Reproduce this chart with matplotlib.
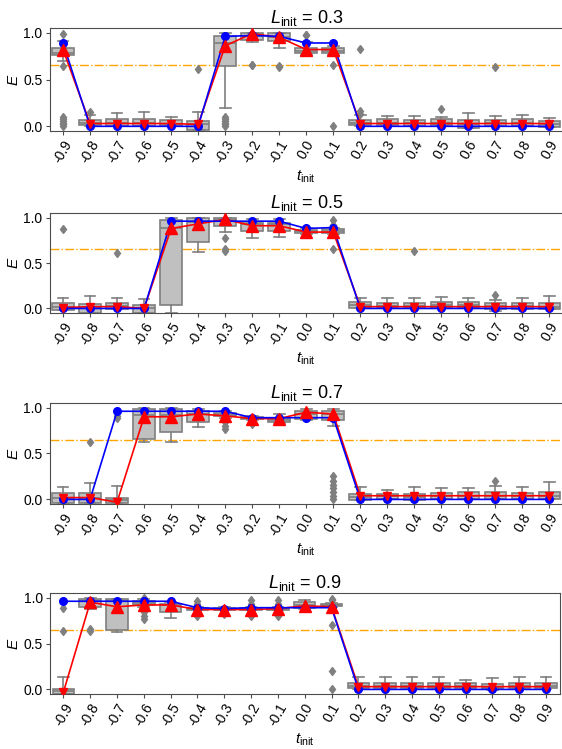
import matplotlib
matplotlib.use('Agg')
import matplotlib.pyplot as plt
import numpy as np

plt.rcParams['font.family'] = ['Liberation Sans', 'DejaVu Sans']
plt.rcParams['mathtext.fontset'] = 'custom'
plt.rcParams['mathtext.rm'] = 'Liberation Sans'
plt.rcParams['mathtext.it'] = 'Liberation Sans:italic'

t_init = ['-0.9', '-0.8', '-0.7', '-0.6', '-0.5', '-0.4', '-0.3', '-0.2', '-0.1', '0.0',
          '0.1', '0.2', '0.3', '0.4', '0.5', '0.6', '0.7', '0.8', '0.9']
l_init = ['0.3', '0.5', '0.7', '0.9']
threshold = 0.65

# ---- L_init = 0.3
q1_03 = [0.76, 0.01, 0.00, 0.00, 0.005, -0.04, 0.645, 0.92, 0.91, 0.78,
         0.78, 0.01, 0.01, 0.005, 0.01, -0.015, 0.00, 0.005, -0.005]
med_03 = [0.78, 0.04, 0.04, 0.035, 0.03, 0.02, 0.89, 0.96, 0.95, 0.80,
          0.80, 0.04, 0.04, 0.035, 0.04, 0.03, 0.035, 0.04, 0.03]
q3_03 = [0.84, 0.065, 0.08, 0.075, 0.07, 0.055, 0.96, 0.995, 1.00, 0.84,
         0.84, 0.065, 0.08, 0.065, 0.075, 0.065, 0.065, 0.075, 0.06]
wlo_03 = [0.70, 0.00, 0.00, 0.00, 0.00, -0.04, 0.20, 0.90, 0.84, 0.76,
          0.76, 0.00, 0.00, 0.00, 0.00, -0.015, 0.00, 0.00, -0.005]
whi_03 = [0.91, 0.12, 0.14, 0.15, 0.10, 0.15, 1.00, 1.00, 1.00, 0.90,
          0.86, 0.12, 0.11, 0.11, 0.10, 0.14, 0.11, 0.12, 0.09]
fl_03 = [[0.99, 0.64, 0.0, 0.02, 0.04, 0.06, 0.08, 0.10], [0.15], [], [], [], [0.61],
         [0.0, 0.02, 0.04, 0.06, 0.08, 0.10], [0.65, 0.66], [0.63, 0.64], [0.97, 0.98],
         [0.65, 0.0], [0.83, 0.13, 0.16], [], [], [0.18], [], [0.63], [], []]
blue_03 = [0.89, 0.0, 0.0, 0.0, 0.0, 0.0, 0.96, 0.97, 0.96, 0.89,
           0.89, 0.0, 0.0, 0.0, 0.0, 0.0, 0.0, 0.0, 0.0]
red_03 = [0.82, 0.03, 0.03, 0.03, 0.03, 0.02, 0.86, 0.99, 0.95, 0.82,
          0.82, 0.03, 0.03, 0.03, 0.03, 0.03, 0.03, 0.03, 0.03]

# ---- L_init = 0.5
q1_05 = [-0.02, -0.05, -0.01, -0.05, 0.035, 0.73, 0.91, 0.85, 0.85, 0.83,
         0.83, 0.005, 0.00, 0.00, 0.00, 0.005, -0.01, -0.01, -0.01]
med_05 = [0.02, 0.01, 0.03, 0.00, 0.89, 0.95, 0.97, 0.93, 0.93, 0.85,
          0.85, 0.04, 0.03, 0.03, 0.04, 0.04, 0.03, 0.03, 0.02]
q3_05 = [0.055, 0.05, 0.06, 0.035, 0.97, 0.99, 0.99, 0.94, 0.94, 0.865,
         0.87, 0.07, 0.06, 0.06, 0.07, 0.075, 0.06, 0.06, 0.055]
wlo_05 = [-0.02, -0.05, -0.01, -0.05, -0.05, 0.62, 0.84, 0.78, 0.79, 0.82,
          0.82, 0.005, 0.00, 0.00, 0.00, 0.005, -0.03, -0.01, -0.01]
whi_05 = [0.11, 0.14, 0.12, 0.10, 0.99, 1.00, 1.00, 0.98, 0.98, 0.88,
          0.88, 0.12, 0.11, 0.11, 0.13, 0.11, 0.09, 0.12, 0.14]
fl_05 = [[0.87], [], [0.61], [], [], [], [0.77, 0.65, 0.63], [], [], [],
         [0.92, 0.97, 0.65], [], [], [0.63], [], [], [0.15], [], []]
blue_05 = [0.0, 0.0, 0.0, 0.0, 0.96, 0.96, 0.96, 0.96, 0.96, 0.88,
           0.89, 0.0, 0.0, 0.0, 0.0, 0.0, 0.0, 0.0, 0.0]
red_05 = [0.01, 0.02, 0.02, 0.0, 0.88, 0.93, 0.98, 0.91, 0.91, 0.84,
          0.84, 0.02, 0.02, 0.02, 0.02, 0.02, 0.02, 0.02, 0.02]

# ---- L_init = 0.7
q1_07 = [-0.035, -0.04, -0.04, 0.66, 0.73, 0.84, 0.91, 0.88, 0.84, 0.88,
         0.87, -0.005, 0.005, -0.005, 0.005, 0.005, 0.005, 0.005, 0.005]
med_07 = [0.02, 0.02, -0.01, 0.92, 0.92, 0.93, 0.92, 0.89, 0.87, 0.93,
          0.93, 0.03, 0.04, 0.03, 0.04, 0.04, 0.04, 0.04, 0.04]
q3_07 = [0.07, 0.065, 0.015, 0.99, 0.99, 0.96, 0.94, 0.90, 0.89, 0.96,
         0.96, 0.055, 0.06, 0.06, 0.07, 0.08, 0.08, 0.07, 0.08]
wlo_07 = [-0.035, -0.04, -0.04, 0.63, 0.63, 0.79, 0.89, 0.87, 0.83, 0.86,
          0.80, -0.005, 0.005, -0.005, 0.005, 0.005, 0.005, 0.005, 0.005]
whi_07 = [0.13, 0.18, 0.15, 1.00, 1.00, 0.99, 0.96, 0.91, 0.93, 0.98,
          0.99, 0.13, 0.10, 0.14, 0.12, 0.12, 0.15, 0.13, 0.19]
fl_07 = [[], [0.62], [0.89, 0.91], [], [], [], [0.77, 0.80, 0.84, 0.88], [0.82, 0.84, 0.86], [], [],
         [0.0, 0.04, 0.08, 0.12, 0.16, 0.20, 0.26], [], [], [], [], [], [0.20], [], []]
blue_07 = [0.0, 0.0, 0.96, 0.96, 0.96, 0.96, 0.96, 0.89, 0.89, 0.89,
           0.89, 0.0, 0.0, 0.0, 0.0, 0.0, 0.0, 0.0, 0.0]
red_07 = [0.02, 0.02, -0.03, 0.90, 0.90, 0.93, 0.91, 0.88, 0.88, 0.95,
          0.93, 0.04, 0.04, 0.04, 0.04, 0.04, 0.04, 0.04, 0.04]

# ---- L_init = 0.9
q1_09 = [-0.05, 0.90, 0.65, 0.92, 0.84, 0.87, 0.87, 0.87, 0.87, 0.89,
         0.91, 0.01, 0.01, 0.01, 0.01, 0.01, 0.00, 0.01, 0.01]
med_09 = [-0.02, 0.96, 0.96, 0.94, 0.92, 0.88, 0.88, 0.88, 0.88, 0.92,
          0.92, 0.04, 0.04, 0.04, 0.04, 0.04, 0.03, 0.04, 0.04]
q3_09 = [0.00, 0.98, 0.98, 0.96, 0.93, 0.89, 0.89, 0.89, 0.89, 0.95,
         0.93, 0.065, 0.07, 0.065, 0.07, 0.065, 0.06, 0.07, 0.07]
wlo_09 = [-0.05, 0.88, 0.63, 0.90, 0.78, 0.86, 0.86, 0.86, 0.86, 0.88,
          0.90, 0.00, 0.00, 0.00, 0.00, 0.00, -0.01, 0.00, 0.00]
whi_09 = [0.13, 1.00, 0.99, 0.98, 0.95, 0.90, 0.90, 0.90, 0.90, 0.97,
          0.94, 0.13, 0.13, 0.13, 0.14, 0.10, 0.12, 0.13, 0.13]
fl_09 = [[0.89, 0.64], [0.66, 0.64], [], [0.77, 0.80, 0.84, 0.88, 1.0], [],
         [0.80, 0.83, 0.93, 0.96], [0.82, 0.84], [0.80, 0.83, 0.93, 0.97], [0.80, 0.83, 0.93, 0.97], [],
         [0.99, 0.97, 0.70, 0.20, 0.0], [], [], [], [], [], [], [], []]
blue_09 = [0.96, 0.96, 0.96, 0.96, 0.96, 0.89, 0.88, 0.89, 0.89, 0.89,
           0.89, 0.0, 0.0, 0.0, 0.0, 0.0, 0.0, 0.0, 0.0]
red_09 = [-0.03, 0.95, 0.90, 0.92, 0.92, 0.87, 0.87, 0.87, 0.88, 0.91,
          0.90, 0.03, 0.03, 0.03, 0.03, 0.03, 0.03, 0.03, 0.03]

panels = [
    (q1_03, med_03, q3_03, wlo_03, whi_03, fl_03, blue_03, red_03),
    (q1_05, med_05, q3_05, wlo_05, whi_05, fl_05, blue_05, red_05),
    (q1_07, med_07, q3_07, wlo_07, whi_07, fl_07, blue_07, red_07),
    (q1_09, med_09, q3_09, wlo_09, whi_09, fl_09, blue_09, red_09),
]

# axes boxes in pixels (left, top, right, bottom)
boxes_px = [(49.5, 28, 563, 131), (49.5, 213, 563, 313),
            (49.5, 403, 563, 504), (50, 593, 559.5, 694)]

W, H = 562, 749
fig = plt.figure(figsize=(W / 100, H / 100), dpi=100)

gray = '#7f7f7f'
for (q1, med, q3, wlo, whi, fl, blue, red), lv, (l, t, r, b) in zip(panels, l_init, boxes_px):
    ax = fig.add_axes([l / W, 1 - b / H, (r - l) / W, (b - t) / H])
    stats = []
    for i in range(len(t_init)):
        stats.append({'q1': q1[i], 'med': med[i], 'q3': q3[i],
                      'whislo': wlo[i], 'whishi': whi[i], 'fliers': fl[i]})
    pos = np.arange(len(t_init))
    ax.bxp(stats, positions=pos, widths=0.8, patch_artist=True,
           boxprops=dict(facecolor='#c0c0c0', edgecolor=gray, linewidth=1.2),
           medianprops=dict(color=gray, linewidth=1.2),
           whiskerprops=dict(color=gray, linewidth=1.2),
           capprops=dict(color=gray, linewidth=1.2),
           flierprops=dict(marker='d', markerfacecolor=gray, markeredgecolor=gray,
                           markersize=4.5))
    ax.axhline(threshold, color='orange', linestyle='-.', linewidth=1, zorder=1.5)

    red = np.array(red)
    hi = red > 0.5
    ax.plot(pos, red, color='red', linewidth=1.2, zorder=3)
    ax.plot(pos, blue, color='blue', marker='o', markersize=5.5, linewidth=1.2, zorder=3.5)
    # points near zero show only as a little wedge sitting on the blue dot
    ax.plot(pos[~hi], red[~hi], 'v', color='red', markersize=6, zorder=3.7)
    ax.plot(pos[hi], red[hi], '^', color='red', markersize=9, zorder=4)

    ax.set_xlim(-0.5, len(t_init) - 0.5)
    ax.set_ylim(-0.05, 1.05)
    ax.set_yticks([0.0, 0.5, 1.0])
    ax.set_yticklabels(['0.0', '0.5', '1.0'], fontsize=10)
    ax.set_xticks(pos)
    ax.set_xticklabels(t_init, rotation=60, fontsize=10)
    ax.tick_params(length=3, color='0.3', pad=2)
    for sp in ax.spines.values():
        sp.set_color('0.3')
    ax.set_title(r'$L_{\rm init}$ = ' + lv, fontsize=13, pad=3)
    ax.set_xlabel(r'$t_{\rm init}$', fontsize=11, labelpad=2)
    ax.set_ylabel(r'$E$', fontsize=11, labelpad=2)

fig.savefig('out.png', dpi=100)
